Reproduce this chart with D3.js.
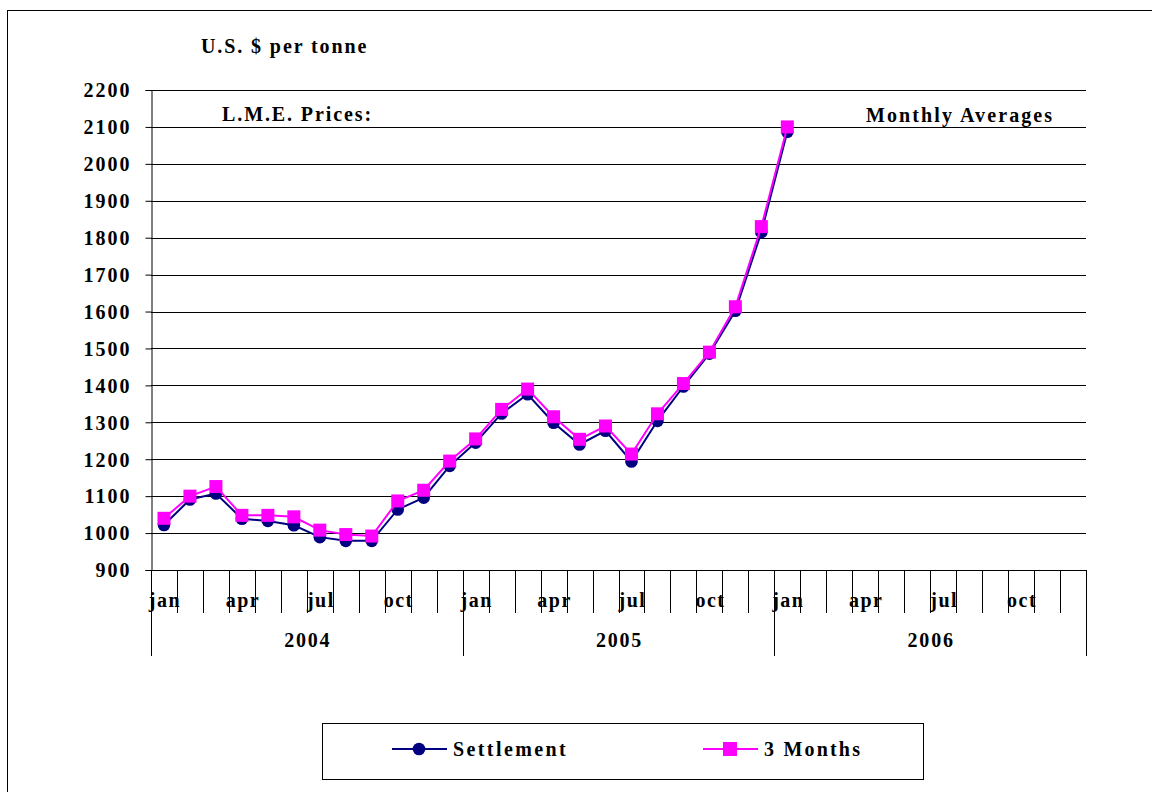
<!DOCTYPE html>
<html>
<head>
<meta charset="utf-8">
<script src="https://cdn.jsdelivr.net/npm/d3@7"></script>
<style>
  body { margin: 0; background: #fff; }
  svg { display: block; }
  text { font-family: "Liberation Serif", "Times New Roman", serif; font-weight: bold; fill: #000; }
</style>
</head>
<body>
<div id="chart"></div>
<script>
// months shown on the axis (3 years)
var years = ['2004', '2005', '2006'];
var monthNames = ['jan', 'feb', 'mar', 'apr', 'may', 'jun', 'jul', 'aug', 'sep', 'oct', 'nov', 'dec'];
var shownMonths = ['jan', 'apr', 'jul', 'oct'];

// LME monthly averages, Jan 2004 .. Jan 2006, US$ per tonne
var settlement = [1022, 1091, 1107, 1039, 1033, 1021, 989, 979, 979, 1064, 1096, 1182,
                  1245, 1324, 1376, 1299, 1240, 1277, 1194, 1304, 1397, 1486, 1602, 1815,
                  2087];
var threeMonths = [1040, 1100, 1126, 1048, 1048, 1044, 1008, 996, 992, 1087, 1116, 1195,
                   1255, 1335, 1390, 1315, 1254, 1290, 1214, 1323, 1405, 1490, 1613, 1830,
                   2100];

var yTicks = [900, 1000, 1100, 1200, 1300, 1400, 1500, 1600, 1700, 1800, 1900, 2000, 2100, 2200];

var width = 1152, height = 792;
var plotLeft = 151, plotRight = 1086, plotTop = 90, plotBottom = 570;
var fontSize = 20;

var slots = [];
years.forEach(function (yr) {
  monthNames.forEach(function (m) { slots.push(yr + '-' + m); });
});

var svg = d3.select('#chart').append('svg')
  .attr('width', width)
  .attr('height', height);

// outer frame
svg.append('rect')
  .attr('x', 7.5).attr('y', 10.5)
  .attr('width', 1160).attr('height', 800)
  .attr('fill', 'none').attr('stroke', '#000').attr('stroke-width', 1);

var x = d3.scaleBand().domain(slots).range([plotLeft, plotRight]).paddingInner(0).paddingOuter(0);
var y = d3.scaleLinear().domain([900, 2200]).range([plotBottom, plotTop]);

// horizontal gridlines
svg.append('g').selectAll('line')
  .data(yTicks.slice(1))
  .enter().append('line')
  .attr('x1', plotLeft).attr('x2', plotRight)
  .attr('y1', function (d) { return Math.round(y(d)) + 0.5; })
  .attr('y2', function (d) { return Math.round(y(d)) + 0.5; })
  .attr('stroke', '#000').attr('stroke-width', 1.2);

// y axis
var yAxis = d3.axisLeft(y).tickValues(yTicks).tickFormat(d3.format('d')).tickSize(6).tickPadding(16);
var gy = svg.append('g')
  .attr('transform', 'translate(' + (plotLeft + 0.5) + ',0)')
  .call(yAxis);
gy.select('.domain').attr('stroke', '#000');
gy.selectAll('.tick line').attr('stroke', '#000');
gy.selectAll('.tick text')
  .attr('font-size', fontSize)
  .style('letter-spacing', '2px')
  .attr('dx', 2)
  .attr('dy', '0.34em')
  .attr('font-family', '"Liberation Serif", serif')
  .attr('font-weight', 'bold');

// x axis baseline
svg.append('line')
  .attr('x1', plotLeft).attr('x2', plotRight)
  .attr('y1', plotBottom + 0.5).attr('y2', plotBottom + 0.5)
  .attr('stroke', '#000').attr('stroke-width', 1.2);

// month separator ticks
var bounds = slots.map(function (s) { return x(s); }).concat([plotRight]);
svg.append('g').selectAll('line')
  .data(bounds)
  .enter().append('line')
  .attr('x1', function (d) { return Math.round(d) + 0.5; })
  .attr('x2', function (d) { return Math.round(d) + 0.5; })
  .attr('y1', plotBottom)
  .attr('y2', function (d, i) { return (i % 12 === 0) ? 656 : 613; })
  .attr('stroke', '#000').attr('stroke-width', 1);

// month labels
svg.append('g').selectAll('text')
  .data(slots.filter(function (s) { return shownMonths.indexOf(s.split('-')[1]) >= 0; }))
  .enter().append('text')
  .attr('x', function (d) { return x(d) + x.bandwidth() / 2 + 1; })
  .attr('y', 607)
  .attr('text-anchor', 'middle')
  .attr('font-size', fontSize)
  .style('letter-spacing', '1.5px')
  .text(function (d) { return d.split('-')[1]; });

// year labels
svg.append('g').selectAll('text')
  .data(years)
  .enter().append('text')
  .attr('x', function (d) { return (x(d + '-jan') + x(d + '-dec') + x.bandwidth()) / 2 + 1; })
  .attr('y', 647)
  .attr('text-anchor', 'middle')
  .attr('font-size', fontSize)
  .style('letter-spacing', '1.8px')
  .text(function (d) { return d; });

// series
var line = d3.line()
  .x(function (d, i) { return x(slots[i]) + x.bandwidth() / 2; })
  .y(function (d) { return y(d); });

svg.append('path')
  .datum(settlement)
  .attr('d', line)
  .attr('fill', 'none').attr('stroke', '#000080').attr('stroke-width', 2);

svg.append('g').selectAll('circle')
  .data(settlement)
  .enter().append('circle')
  .attr('cx', function (d, i) { return x(slots[i]) + x.bandwidth() / 2; })
  .attr('cy', function (d) { return y(d); })
  .attr('r', 6.3)
  .attr('fill', '#000080');

svg.append('path')
  .datum(threeMonths)
  .attr('d', line)
  .attr('fill', 'none').attr('stroke', '#ff00ff').attr('stroke-width', 2);

svg.append('g').selectAll('rect')
  .data(threeMonths)
  .enter().append('rect')
  .attr('x', function (d, i) { return x(slots[i]) + x.bandwidth() / 2 - 6.5; })
  .attr('y', function (d) { return y(d) - 6.5; })
  .attr('width', 13).attr('height', 13)
  .attr('fill', '#ff00ff');

// titles
svg.append('text').attr('x', 201).attr('y', 53)
  .attr('font-size', fontSize).style('letter-spacing', '1.9px')
  .text('U.S. $ per tonne');
svg.append('text').attr('x', 222).attr('y', 121)
  .attr('font-size', fontSize).style('letter-spacing', '1.9px')
  .text('L.M.E. Prices:');
svg.append('text').attr('x', 866).attr('y', 122)
  .attr('font-size', fontSize).style('letter-spacing', '2.1px')
  .text('Monthly Averages');

// legend
var legend = svg.append('g');
legend.append('rect')
  .attr('x', 322.5).attr('y', 723.5)
  .attr('width', 601).attr('height', 56)
  .attr('fill', '#fff').attr('stroke', '#000').attr('stroke-width', 1);

var items = [
  { name: 'Settlement', color: '#000080', shape: 'circle', x0: 392, ls: '2.4px' },
  { name: '3 Months', color: '#ff00ff', shape: 'square', x0: 703, ls: '2.2px' }
];
items.forEach(function (it) {
  legend.append('line')
    .attr('x1', it.x0).attr('x2', it.x0 + 55)
    .attr('y1', 749).attr('y2', 749)
    .attr('stroke', it.color).attr('stroke-width', 2);
  if (it.shape === 'circle') {
    legend.append('circle').attr('cx', it.x0 + 27).attr('cy', 749).attr('r', 6.3).attr('fill', it.color);
  } else {
    legend.append('rect').attr('x', it.x0 + 27 - 7).attr('y', 742).attr('width', 14).attr('height', 14).attr('fill', it.color);
  }
  legend.append('text')
    .attr('x', it.x0 + 61).attr('y', 756)
    .attr('font-size', fontSize).style('letter-spacing', it.ls)
    .text(it.name);
});
</script>
</body>
</html>
